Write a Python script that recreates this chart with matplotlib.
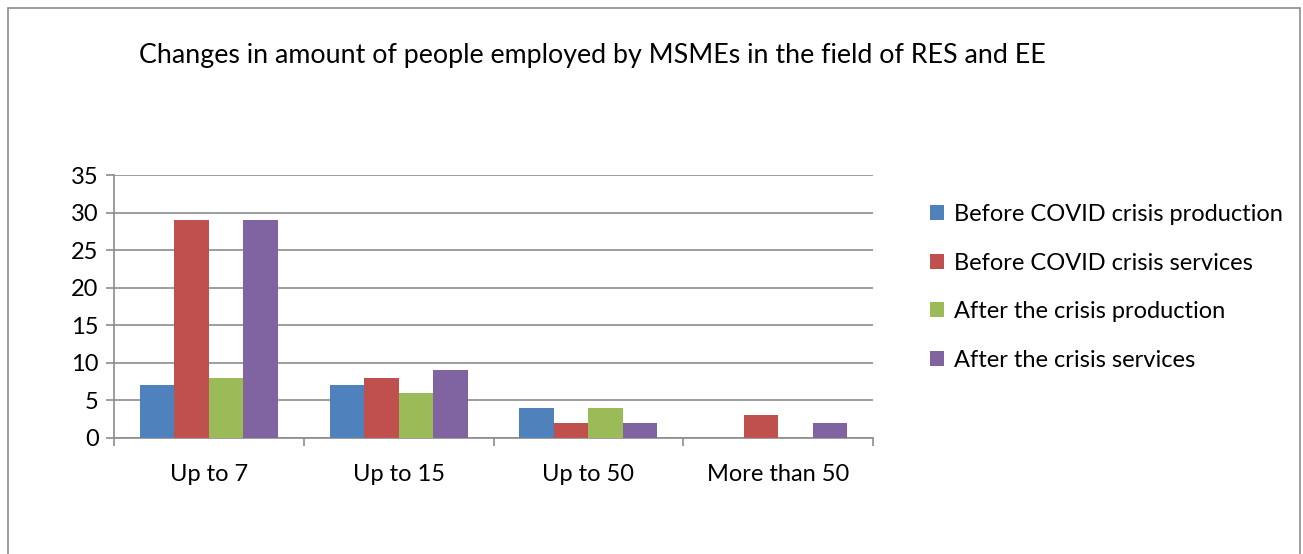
import numpy as np
import matplotlib.pyplot as plt
from matplotlib.patches import Rectangle

plt.rcParams['font.family'] = ['Lato', 'DejaVu Sans']

categories = ['Up to 7', 'Up to 15', 'Up to 50', 'More than 50']
series_names = ['Before COVID crisis production', 'Before COVID crisis services',
                'After the crisis production', 'After the crisis services']
before_production = [7, 7, 4, 0]
before_services = [29, 8, 2, 3]
after_production = [8, 6, 4, 0]
after_services = [29, 9, 2, 2]
colors = ['#4F81BD', '#C0504D', '#9BBB59', '#8064A2']

fig = plt.figure(figsize=(13.03, 5.54), dpi=100)
ax = fig.add_axes([114/1303, 1-438/554, (873-114)/1303, (438-175)/554])

# outer frame of the chart
fig.patches.append(Rectangle((8/1303, -0.01), (1300-8)/1303, 1-8/554+0.01,
                             transform=fig.transFigure, fill=False,
                             edgecolor='#8c8c8c', linewidth=1.2))

x = np.arange(len(categories))
w = 0.182
data = [before_production, before_services, after_production, after_services]
for i, (vals, name, c) in enumerate(zip(data, series_names, colors)):
    ax.bar(x + (i - 1.5) * w, vals, w, color=c, label=name, zorder=3)

ax.set_xlim(-0.5, len(categories) - 0.5)
ax.set_ylim(0, 35)
ax.set_yticks(range(0, 36, 5))
ax.yaxis.grid(True, color='#8c8c8c', linewidth=1.2, zorder=0)

ax.set_xticks(x)
ax.set_xticklabels(categories)
ax.set_xticks(np.arange(-0.5, len(categories)), minor=True)
ax.tick_params(axis='x', which='major', length=0, pad=18.5, labelsize=17)
ax.tick_params(axis='x', which='minor', length=6, width=1.2, color='#8c8c8c', direction='out')
ax.tick_params(axis='y', length=6, width=1.2, color='#8c8c8c', pad=5, labelsize=17)

for s in ['top', 'right']:
    ax.spines[s].set_visible(False)
for s in ['left', 'bottom']:
    ax.spines[s].set_color('#8c8c8c')
    ax.spines[s].set_linewidth(1.2)

fig.text(139/1303, 1-56/554, 'Changes in amount of people employed by MSMEs in the field of RES and EE',
         fontsize=19.3, ha='left', va='center')

fig.legend(loc='upper left', bbox_to_anchor=(930/1303, 1-204/554), frameon=False,
           fontsize=17, handlelength=0.6, handleheight=0.6, handletextpad=0.4,
           labelspacing=1.17, borderaxespad=0, borderpad=0)

fig.savefig('out.png', dpi=100)
